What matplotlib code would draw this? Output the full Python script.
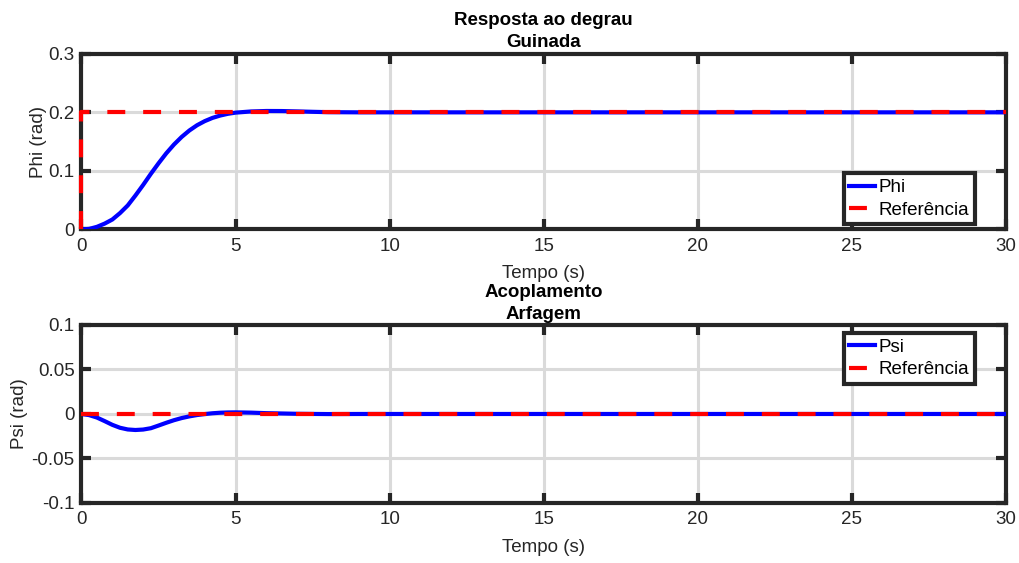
import numpy as np
import matplotlib
matplotlib.use("Agg")
import matplotlib.pyplot as plt

plt.rcParams['font.family'] = ['Liberation Sans', 'DejaVu Sans']

# Data
t_phi = [0, 0.25, 0.5, 0.75, 1.0, 1.25, 1.5, 1.75, 2.0, 2.25, 2.5, 2.75, 3.0, 3.25, 3.5, 3.75,
         4.0, 4.25, 4.5, 4.75, 5.0, 5.5, 6.0, 6.5, 7.0, 7.5, 8.0, 9.0, 10.0, 15.0, 20.0, 25.0, 30.0]
phi = [0, 0.001, 0.0045, 0.010, 0.017, 0.028, 0.041, 0.058, 0.076, 0.095, 0.113, 0.130, 0.145,
       0.158, 0.169, 0.178, 0.185, 0.1905, 0.1945, 0.1975, 0.1995, 0.2015, 0.2023, 0.2022, 0.2016,
       0.2009, 0.2003, 0.2, 0.2, 0.2, 0.2, 0.2, 0.2]
t_ref_phi = [0, 0, 30]
ref_phi = [0, 0.2, 0.2]

t_psi = [0, 0.25, 0.5, 0.75, 1.0, 1.25, 1.5, 1.75, 2.0, 2.25, 2.5, 2.75, 3.0, 3.25, 3.5, 3.75,
         4.0, 4.25, 4.5, 4.75, 5.0, 5.5, 6.0, 7.0, 8.0, 9.0, 10.0, 15.0, 20.0, 25.0, 30.0]
psi = [0, -0.0013, -0.0040, -0.0080, -0.0122, -0.0155, -0.0174, -0.0180, -0.0175, -0.0160,
       -0.0130, -0.0099, -0.0070, -0.0046, -0.0027, -0.0012, -0.0001, 0.0008, 0.0014,
       0.0017, 0.0018, 0.0015, 0.0009, 0.0002, -0.0001, 0.0, 0.0, 0.0, 0.0, 0.0, 0.0]
t_ref_psi = [0, 30]
ref_psi = [0, 0]

x_ticks = [0, 5, 10, 15, 20, 25, 30]
phi_ticks = [0, 0.1, 0.2, 0.3]
phi_ticklabels = ['0', '0.1', '0.2', '0.3']
psi_ticks = [-0.1, -0.05, 0, 0.05, 0.1]
psi_ticklabels = ['-0.1', '-0.05', '0', '0.05', '0.1']

FS = 13.5
frame_col = '#262626'
dash = (0, (4.3, 4.3))

fig = plt.figure(figsize=(10.2, 5.63), dpi=100)
ax1 = fig.add_axes([0.0799, 0.5924, 0.9064, 0.3121])
ax2 = fig.add_axes([0.0799, 0.1066, 0.9064, 0.3162])


def style(ax):
    ax.set_xlim(0, 30)
    ax.set_xticks(x_ticks)
    ax.grid(True, color='#dadada', linewidth=2.2, zorder=0)
    ax.set_axisbelow(True)
    for s in ax.spines.values():
        s.set_linewidth(3)
        s.set_color(frame_col)
    ax.tick_params(direction='in', length=7, width=3, color=frame_col,
                   top=True, right=True, labelsize=FS, labelcolor=frame_col)
    ax.tick_params(axis='x', pad=6)
    ax.tick_params(axis='y', pad=5)


def legend(ax, loc, anchor):
    leg = ax.legend(loc=loc, bbox_to_anchor=anchor, fontsize=FS,
                    handlelength=1.39, handletextpad=0.16, borderpad=0.3,
                    labelspacing=0.28, fancybox=False, framealpha=1,
                    edgecolor=frame_col, borderaxespad=0)
    leg.get_frame().set_linewidth(3)
    return leg


ax1.plot(t_phi, phi, color='#0000ff', linewidth=3, label='Phi', zorder=3)
ax1.plot(t_ref_phi, ref_phi, color='#ff0000', linewidth=3, linestyle=dash,
         label='Referência', zorder=4, clip_on=False)
style(ax1)
ax1.set_ylim(0, 0.3)
ax1.set_yticks(phi_ticks)
ax1.set_yticklabels(phi_ticklabels)
ax1.set_ylabel('Phi (rad)', fontsize=FS, color=frame_col, labelpad=1)
ax1.set_xlabel('Tempo (s)', fontsize=FS, color=frame_col, labelpad=7)
ax1.set_title('Resposta ao degrau\nGuinada', fontsize=FS, fontweight='bold', pad=5,
              linespacing=1.38)
legend(ax1, 'lower right', (0.966, 0.03))

ax2.plot(t_psi, psi, color='#0000ff', linewidth=3, label='Psi', zorder=3)
ax2.plot(t_ref_psi, ref_psi, color='#ff0000', linewidth=3, linestyle=dash,
         label='Referência', zorder=4)
style(ax2)
ax2.set_ylim(-0.1, 0.1)
ax2.set_yticks(psi_ticks)
ax2.set_yticklabels(psi_ticklabels)
ax2.set_ylabel('Psi (rad)', fontsize=FS, color=frame_col, labelpad=2.5)
ax2.set_xlabel('Tempo (s)', fontsize=FS, color=frame_col, labelpad=8)
ax2.set_title('Acoplamento\nArfagem', fontsize=FS, fontweight='bold', pad=4,
              linespacing=1.4)
legend(ax2, 'upper right', (0.966, 0.955))

fig.savefig('out.png', dpi=100)
